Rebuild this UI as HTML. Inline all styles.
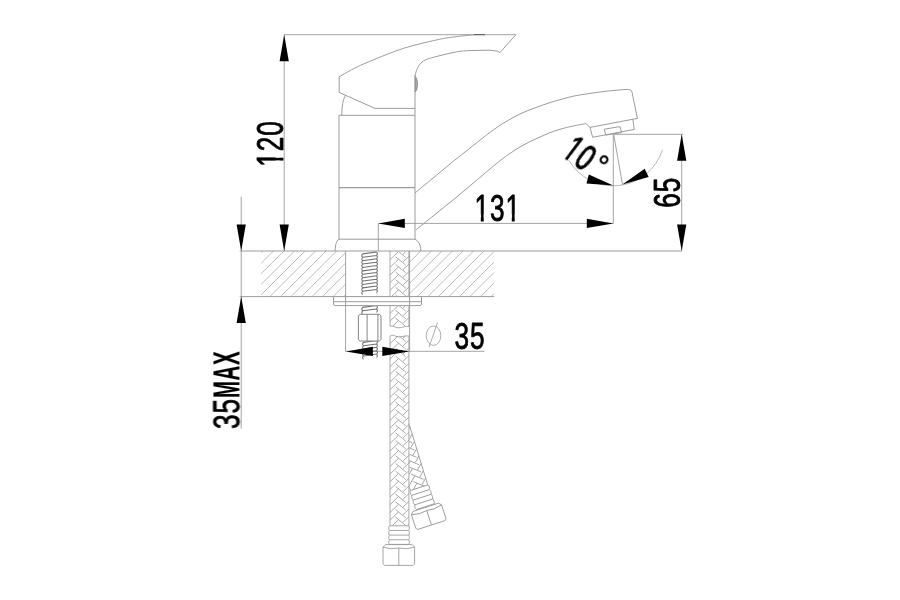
<!DOCTYPE html>
<html lang="en">
<head>
<meta charset="utf-8">
<title>Faucet dimensional drawing</title>
<style>
html,body{margin:0;padding:0;background:#fff;}
body{width:900px;height:600px;overflow:hidden;position:relative;font-family:"Liberation Sans", sans-serif;}
#drawing{position:absolute;left:0;top:0;width:900px;height:600px;overflow:hidden;background:#fff;}
svg{position:absolute;left:0;top:0;display:block;will-change:transform;}
svg text{font-family:"Liberation Sans", sans-serif;fill:#000;stroke:#000;stroke-linejoin:round;}
.vt{will-change:transform;position:absolute;left:0;top:0;white-space:nowrap;line-height:1;color:#000;font-family:"Liberation Sans", sans-serif;transform-origin:0 0;-webkit-text-stroke:1px #000;}
.vt span{display:inline-block;transform-origin:0 50%;vertical-align:baseline;}
</style>
</head>
<body>
<div id="drawing">
<svg width="900" height="600" viewBox="0 0 900 600">
<defs>
<clipPath id="k0"><path clip-rule="evenodd" d="M-5 -36.9H75.47V11.07H-5ZM1.19 -7.18H8.91V1.62H1.19ZM12.91 -7.18H20.34V1.62H12.91Z"/></clipPath>
<clipPath id="k1"><path clip-rule="evenodd" d="M-5 -36.9H75.47V11.07H-5ZM1.19 -7.18H8.91V1.62H1.19ZM12.91 -7.18H20.34V1.62H12.91ZM44.83 -7.18H52.55V1.62H44.83ZM56.56 -7.18H63.99V1.62H56.56Z"/></clipPath>
</defs>
<rect width="900" height="600" fill="#fff"/>
<g id="hatch" stroke="#acacac" stroke-width="0.8" fill="none">
<path d="M261.2 252.67L262.87 251M261.2 263.2L273.4 251M261.2 273.73L283.93 251M261.2 284.26L294.46 251M261.2 294.79L304.99 251M269.92 296.6L315.52 251M280.45 296.6L326.05 251M290.98 296.6L336.58 251M301.51 296.6L345.6 252.51M312.04 296.6L345.6 263.04M322.57 296.6L345.6 273.57M333.1 296.6L345.6 284.1M343.63 296.6L345.6 294.63"/>
<path d="M409.6 251.69L410.29 251M409.6 262.22L420.82 251M409.6 272.75L431.35 251M409.6 283.28L441.88 251M409.6 293.81L452.41 251M417.34 296.6L462.94 251M427.87 296.6L473.47 251M438.4 296.6L484 251M448.93 296.6L494 251.53M459.46 296.6L494 262.06M469.99 296.6L494 272.59M480.52 296.6L494 283.12M491.05 296.6L494 293.65"/>
</g>
<path d="M239.7 251L682.2 251" fill="none" stroke="#9c9c9c" stroke-width="1"/>
<path d="M239.7 296.6L494.2 296.6" fill="none" stroke="#9c9c9c" stroke-width="1"/>
<path d="M284.2 34.7L284.2 251" fill="none" stroke="#a4a4a4" stroke-width="1"/>
<path d="M284.2 34.7L515.8 34.7" fill="none" stroke="#a4a4a4" stroke-width="1"/>
<path d="M241.2 196.7L241.2 428.7" fill="none" stroke="#a4a4a4" stroke-width="1"/>
<path d="M681.7 134.3L681.7 251" fill="none" stroke="#a4a4a4" stroke-width="1"/>
<path d="M613.3 134.3L683.3 134.3" fill="none" stroke="#a4a4a4" stroke-width="1"/>
<path d="M613.3 134.3L613.3 223.4" fill="none" stroke="#a4a4a4" stroke-width="1"/>
<path d="M378.3 223.4L613.3 223.4" fill="none" stroke="#a4a4a4" stroke-width="1"/>
<path d="M378.3 223.4L378.3 251" fill="none" stroke="#a4a4a4" stroke-width="1"/>
<path d="M345.6 251L345.6 351.5" fill="none" stroke="#a4a4a4" stroke-width="1"/>
<path d="M409.6 251L409.6 351.5" fill="none" stroke="#a4a4a4" stroke-width="1"/>
<path d="M345.6 351.3L484.5 351.3" fill="none" stroke="#a4a4a4" stroke-width="1"/>
<path d="M339 115.3L339 239.2" fill="none" stroke="#9c9c9c" stroke-width="1"/>
<path d="M415 75L415 239.2" fill="none" stroke="#9c9c9c" stroke-width="1"/>
<path d="M339 115.3L415 115.3" fill="none" stroke="#9c9c9c" stroke-width="1"/>
<path d="M339 187.6L415 187.6" fill="none" stroke="#9c9c9c" stroke-width="1.3"/>
<path d="M339 239.2L415 239.2" fill="none" stroke="#9c9c9c" stroke-width="1"/>
<path d="M339 239.2C336.3 241 335.2 245 335.2 251" fill="none" stroke="#9c9c9c" stroke-width="1"/>
<path d="M415 239.2C418.4 241 420.8 245 420.8 251" fill="none" stroke="#9c9c9c" stroke-width="1"/>
<path d="M339.2 76.7C342 75.17 350.03 70.42 356 67.5C361.97 64.58 367.12 62.38 375 59.2C382.88 56.02 393.02 51.62 403.3 48.4C413.58 45.18 428.08 41.83 436.7 39.9C445.32 37.97 448.78 37.65 455 36.8C461.22 35.95 470.83 35.13 474 34.8" fill="none" stroke="#9c9c9c" stroke-width="1"/>
<path d="M339.2 76.7L339.2 92.5L375 108.4L415 108.4" fill="none" stroke="#9c9c9c" stroke-width="1"/>
<path d="M415 76C415.25 75.08 415.95 72.05 416.5 70.5C417.05 68.95 417.62 67.88 418.3 66.7C418.98 65.52 419.7 64.38 420.6 63.4C421.5 62.42 422.58 61.52 423.7 60.8C424.82 60.08 425.97 59.6 427.3 59.1C428.63 58.6 429.92 58.3 431.7 57.8C433.48 57.3 435.78 56.67 438 56.1C440.22 55.53 442.67 54.95 445 54.4C447.33 53.85 449.78 53.28 452 52.8C454.22 52.32 456.13 51.83 458.3 51.5C460.47 51.17 463.38 50.95 465 50.8C466.62 50.65 467.5 50.63 468 50.6" fill="none" stroke="#9c9c9c" stroke-width="1"/>
<path d="M468 50.6L490 50.2L497.5 51.2L500 52.6L515.8 34.7" fill="none" stroke="#9c9c9c" stroke-width="1"/>
<path d="M345.3 95.4C344.95 96.33 343.72 99.07 343.2 101C342.68 102.93 342.47 104.62 342.2 107C341.93 109.38 341.7 113.92 341.6 115.3" fill="none" stroke="#9c9c9c" stroke-width="1"/>
<path d="M415.2 76.5C418.3 79 418.3 89.5 415.2 92Z" fill="#a8a8a8" stroke="#888" stroke-width="0.8"/>
<path d="M474 34.7L485 34.7" fill="none" stroke="#555" stroke-width="1"/>
<path d="M415 192.9C417.83 190.58 426.17 183.82 432 179C437.83 174.18 444.5 168.5 450 164C455.5 159.5 460 155.97 465 152C470 148.03 475.83 143.47 480 140.2C484.17 136.93 486.67 134.88 490 132.4C493.33 129.92 496.67 127.48 500 125.3C503.33 123.12 506.67 121.18 510 119.3C513.33 117.42 516.67 115.6 520 114C523.33 112.4 526.67 111.03 530 109.7C533.33 108.37 536.67 107.18 540 106C543.33 104.82 546.67 103.65 550 102.6C553.33 101.55 556.12 100.77 560 99.7C563.88 98.63 568.3 97.25 573.3 96.2C578.3 95.15 584.43 94.23 590 93.4C595.57 92.57 601.7 91.78 606.7 91.2C611.7 90.62 616.4 90.2 620 89.9C623.6 89.6 626.92 89.48 628.3 89.4" fill="none" stroke="#9c9c9c" stroke-width="1"/>
<path d="M628.3 89.4C630.5 89.5 631.6 90.5 632 92.2L637.4 118.4" fill="none" stroke="#9c9c9c" stroke-width="1"/>
<path d="M415.8 230C418.83 227.55 427.8 220.3 434 215.3C440.2 210.3 447 204.92 453 200C459 195.08 464.67 190.27 470 185.8C475.33 181.33 480 177.38 485 173.2C490 169.02 495.83 164 500 160.7C504.17 157.4 506.67 155.68 510 153.4C513.33 151.12 516.67 148.97 520 147C523.33 145.03 526.67 143.27 530 141.6C533.33 139.93 536.67 138.48 540 137C543.33 135.52 546.67 133.98 550 132.7C553.33 131.42 556.17 130.42 560 129.3C563.83 128.18 568.7 126.95 573 126C577.3 125.05 583.67 124 585.8 123.6" fill="none" stroke="#9c9c9c" stroke-width="1"/>
<path d="M585.8 123.6L590 127.4L637.4 118.4" fill="none" stroke="#9c9c9c" stroke-width="1"/>
<path d="M590 127.4L592.6 137.3L634.3 129.4L632.8 119.3" fill="none" stroke="#9c9c9c" stroke-width="1"/>
<path d="M604.2 129.2L620 126.6L621.7 132.5L605.8 135.1Z" fill="none" stroke="#9c9c9c" stroke-width="1"/>
<path d="M662.42 149.79A51.5 51.5 0 0 1 568.7 160.05" fill="none" stroke="#a6a6a6" stroke-width="0.8"/>
<path d="M613.8 135L622.5 184.6" fill="none" stroke="#9a9a9a" stroke-width="0.9"/>
<g id="rod" stroke="#707070" stroke-width="1.05" fill="none">
<path d="M362.7 253.87L376.5 252L362.7 253.87M362.7 253.87C361.5 255.06 361.5 256.08 362.7 257.27M376.5 252C377.7 253.19 377.7 254.21 376.5 255.4M362.7 257.27L376.5 255.4L362.7 257.27M362.7 257.27C361.5 258.46 361.5 259.48 362.7 260.67M376.5 255.4C377.7 256.59 377.7 257.61 376.5 258.8M362.7 260.67L376.5 258.8L362.7 260.67M362.7 260.67C361.5 261.86 361.5 262.88 362.7 264.07M376.5 258.8C377.7 259.99 377.7 261.01 376.5 262.2M362.7 264.07L376.5 262.2L362.7 264.07M362.7 264.07C361.5 265.26 361.5 266.28 362.7 267.47M376.5 262.2C377.7 263.39 377.7 264.41 376.5 265.6M362.7 267.47L376.5 265.6L362.7 267.47M362.7 267.47C361.5 268.66 361.5 269.68 362.7 270.87M376.5 265.6C377.7 266.79 377.7 267.81 376.5 269M362.7 270.87L376.5 269L362.7 270.87M362.7 270.87C361.5 272.06 361.5 273.08 362.7 274.27M376.5 269C377.7 270.19 377.7 271.21 376.5 272.4M362.7 274.27L376.5 272.4L362.7 274.27M362.7 274.27C361.5 275.46 361.5 276.48 362.7 277.67M376.5 272.4C377.7 273.59 377.7 274.61 376.5 275.8M362.7 277.67L376.5 275.8L362.7 277.67M362.7 277.67C361.5 278.86 361.5 279.88 362.7 281.07M376.5 275.8C377.7 276.99 377.7 278.01 376.5 279.2M362.7 281.07L376.5 279.2L362.7 281.07M362.7 281.07C361.5 282.26 361.5 283.28 362.7 284.47M376.5 279.2C377.7 280.39 377.7 281.41 376.5 282.6M362.7 284.47L376.5 282.6L362.7 284.47M362.7 284.47C361.5 285.66 361.5 286.68 362.7 287.87M376.5 282.6C377.7 283.79 377.7 284.81 376.5 286M362.7 287.87L376.5 286L362.7 287.87M362.7 287.87C361.5 289.06 361.5 290.08 362.7 291.27M376.5 286C377.7 287.19 377.7 288.21 376.5 289.4M362.7 291.27L376.5 289.4L362.7 291.27M362.7 291.27C361.5 292.46 361.5 293.48 362.7 294.67M376.5 289.4C377.7 290.59 377.7 291.61 376.5 292.8"/>
<path d="M362.7 307.37L376.5 305.5L362.7 307.37M362.7 307.37C361.5 308.56 361.5 309.58 362.7 310.77M376.5 305.5C377.7 306.69 377.7 307.71 376.5 308.9M362.7 310.77L376.5 308.9L362.7 310.77M362.7 310.77C361.5 311.96 361.5 312.98 362.7 314.17M376.5 308.9C377.7 310.09 377.7 311.11 376.5 312.3"/>
<path d="M363.5 342.37L376.5 340.5L363.5 342.37M363.5 342.37C362.3 343.56 362.3 344.58 363.5 345.77M376.5 340.5C377.7 341.69 377.7 342.71 376.5 343.9M363.5 345.77L376.5 343.9L363.5 345.77M363.5 345.77C362.3 346.96 362.3 347.98 363.5 349.17M376.5 343.9C377.7 345.09 377.7 346.11 376.5 347.3M363.5 349.17L376.5 347.3L363.5 349.17M363.5 349.17C362.3 350.36 362.3 351.38 363.5 352.57M376.5 347.3C377.7 348.49 377.7 349.51 376.5 350.7M363.5 352.57L376.5 350.7L363.5 352.57M363.5 352.57C362.3 353.76 362.3 354.78 363.5 355.97M376.5 350.7C377.7 351.89 377.7 352.91 376.5 354.1M363.5 355.97L376.5 354.1L363.5 355.97M363.5 355.97C362.3 357.16 362.3 358.18 363.5 359.37M376.5 354.1C377.7 355.29 377.7 356.31 376.5 357.5"/>
</g>
<path d="M358.4 316L359.8 314.3H379.6L381 316V339.4L379.6 341H359.8L358.4 339.4Z" fill="#fff" stroke="#858585" stroke-width="1"/>
<path d="M367.1 314.3L367.1 341" fill="none" stroke="#858585" stroke-width="1"/>
<path d="M377.9 314.3L377.9 341" fill="none" stroke="#858585" stroke-width="1"/>
<g id="hose1" stroke="#9c9c9c" stroke-width="0.85" fill="none">
<path d="M390 259.67L398.04 252M399.16 252L405.8 257.47M403 254.27L405.39 252M390 267.34L398.6 259.14M395.6 256.74L405.8 265.14M403 261.94L408.9 256.33M390 275.01L398.6 266.81M395.6 264.41L405.8 272.81M403 269.61L408.9 264M390 282.68L398.6 274.48M395.6 272.08L405.8 280.48M403 277.28L408.9 271.68M390 290.35L398.6 282.15M395.6 279.75L405.8 288.15M403 284.95L408.9 279.35M390 298.02L398.6 289.82M395.6 287.42L405.8 295.82M403 292.62L408.9 287.02M390 305.69L398.6 297.49M395.6 295.09L405.8 303.49M403 300.29L408.9 294.69M390 313.36L398.6 305.16M395.6 302.76L405.8 311.16M403 307.96L408.9 302.36M390 321.03L398.6 312.83M395.6 310.43L405.8 318.83M403 315.63L408.9 310.03M392.83 326L398.6 320.5M395.6 318.1L405.19 326M403 323.3L408.9 317.7M408.23 326L408.9 325.37"/>
<path d="M390 343.67L398.04 336M399.16 336L405.8 341.47M403 338.27L405.39 336M390 351.34L398.6 343.14M395.6 340.74L405.8 349.14M403 345.94L408.9 340.34M390 359.01L398.6 350.81M395.6 348.41L405.8 356.81M403 353.61L408.9 348.01M390 366.68L398.6 358.48M395.6 356.08L405.8 364.48M403 361.28L408.9 355.68M390 374.35L398.6 366.15M395.6 363.75L405.8 372.15M403 368.95L408.9 363.35M390 382.02L398.6 373.82M395.6 371.42L405.8 379.82M403 376.62L408.9 371.02M390 389.69L398.6 381.49M395.6 379.09L405.8 387.49M403 384.29L408.9 378.69M390 397.36L398.6 389.16M395.6 386.76L405.8 395.16M403 391.96L408.9 386.36M390 405.03L398.6 396.83M395.6 394.43L405.8 402.83M403 399.63L408.9 394.03M390 412.7L398.6 404.5M395.6 402.1L405.8 410.5M403 407.3L408.9 401.7M390 420.37L398.6 412.17M395.6 409.77L405.8 418.17M403 414.97L408.9 409.37M390 428.04L398.6 419.84M395.6 417.44L405.8 425.84M403 422.64L408.9 417.04M390 435.71L398.6 427.51M395.6 425.11L405.8 433.51M403 430.31L408.9 424.71M390 443.38L398.6 435.18M395.6 432.78L405.8 441.18M403 437.98L408.9 432.38M390 451.05L398.6 442.85M395.6 440.45L405.8 448.85M403 445.65L408.9 440.05M390 458.72L398.6 450.52M395.6 448.12L405.8 456.52M403 453.32L408.9 447.72M390 466.39L398.6 458.19M395.6 455.79L405.8 464.19M403 460.99L408.9 455.39M390 474.06L398.6 465.86M395.6 463.46L405.8 471.86M403 468.66L408.9 463.06M390 481.73L398.6 473.53M395.6 471.13L405.8 479.53M403 476.33L408.9 470.73M390 489.4L398.6 481.2M395.6 478.8L405.8 487.2M403 484L408.9 478.4M390 497.07L398.6 488.87M395.6 486.47L405.8 494.87M403 491.67L408.9 486.07M390 504.74L398.6 496.54M395.6 494.14L405.8 502.54M403 499.34L408.9 493.74M390 512.41L398.6 504.21M395.6 501.81L405.8 510.21M403 507.01L408.9 501.41M390 520.08L398.6 511.88M395.6 509.48L405.8 517.88M403 514.68L408.9 509.08M392.36 525.5L398.6 519.55M395.6 517.15L405.74 525.5M403 522.35L408.9 516.75M395.6 524.82L396.43 525.5M407.76 525.5L408.9 524.42"/>
<path d="M390 251V326M390 336V525.8M408.9 251V326M408.9 336V525.8"/>
<path d="M390 326C393 325.2 395 327.6 398 327.8C402 328 405 325.6 409 326.6M390 336C392 334.6 394 335.2 396 336.4C400 338.2 404 335 409 336"/>
</g>
<path d="M333.6 296.6V304.1Q333.6 305.6 335.1 305.6H420Q421.5 305.6 421.5 304.1V296.6Z" fill="#fff" stroke="#9c9c9c" stroke-width="1"/>
<path d="M333.6 301.7L421.5 301.7" fill="none" stroke="#9c9c9c" stroke-width="1"/>
<path d="M345.6 296.6L345.6 305.6" fill="none" stroke="#9c9c9c" stroke-width="1"/>
<path d="M409.6 296.6L409.6 305.6" fill="none" stroke="#9c9c9c" stroke-width="1"/>
<g id="end1" stroke="#9c9c9c" stroke-width="0.9" fill="none">
<path d="M389.4 525.8H408.7M389.4 525.8C388.5 526.96 388.5 529.29 389.4 530.45C388.5 531.61 388.5 533.94 389.4 535.1C388.5 536.26 388.5 538.59 389.4 539.75C388.5 540.91 388.5 543.24 389.4 544.4M408.7 525.8C409.6 526.96 409.6 529.29 408.7 530.45C409.6 531.61 409.6 533.94 408.7 535.1C409.6 536.26 409.6 538.59 408.7 539.75C409.6 540.91 409.6 543.24 408.7 544.4M389.4 530.45H408.7M389.4 535.1H408.7M389.4 539.75H408.7M389.4 544.4H408.7"/>
<path d="M385.4 544.6L383 547.2V563.9L384.5 565.4H413.1L414.6 563.9V547.2L412.2 544.6ZM398.8 548V565.4M383 547.2Q390.9 549.8 398.8 548Q406.7 549.8 414.6 547.2"/>
</g>
<clipPath id="clipR"><rect x="409.2" y="400" width="100" height="200"/></clipPath>
<g clip-path="url(#clipR)">
<g id="hose2" stroke="#9c9c9c" stroke-width="0.85" fill="none" transform="translate(408.4 421.7) rotate(-17)">
<path d="M-18.3 -7.33L-10.26 -15M-9.14 -15L-2.5 -9.53M-5.3 -12.73L-2.91 -15M-18.3 0.34L-9.7 -7.86M-12.7 -10.26L-2.5 -1.86M-5.3 -5.06L0 -10.1M-18.3 8.01L-9.7 -0.19M-12.7 -2.59L-2.5 5.81M-5.3 2.61L0 -2.43M-18.3 15.68L-9.7 7.48M-12.7 5.08L-2.5 13.48M-5.3 10.28L0 5.24M-18.3 23.35L-9.7 15.15M-12.7 12.75L-2.5 21.15M-5.3 17.95L0 12.91M-18.3 31.02L-9.7 22.82M-12.7 20.42L-2.5 28.82M-5.3 25.62L0 20.58M-18.3 38.69L-9.7 30.49M-12.7 28.09L-2.5 36.49M-5.3 33.29L0 28.25M-18.3 46.36L-9.7 38.16M-12.7 35.76L-2.5 44.16M-5.3 40.96L0 35.92M-18.3 54.03L-9.7 45.83M-12.7 43.43L-2.5 51.83M-5.3 48.63L0 43.59M-18.3 61.7L-9.7 53.5M-12.7 51.1L-2.5 59.5M-5.3 56.3L0 51.27M-15.08 66.3L-9.7 61.17M-12.7 58.77L-3.56 66.3M-5.3 63.97L0 58.94"/>
<path d="M0 0V66.3M-18.3 -15V66.3"/>
</g>
</g>
<g id="end2" stroke="#9c9c9c" stroke-width="0.9" fill="none" transform="translate(427.7 485.2) rotate(-18)">
<path d="M-18.3 -0.3H0.4M-18.3 -0.3C-19.2 0.95 -19.2 3.45 -18.3 4.7C-19.2 5.95 -19.2 8.45 -18.3 9.7C-19.2 10.95 -19.2 13.45 -18.3 14.7C-19.2 15.95 -19.2 18.45 -18.3 19.7M0.4 -0.3C1.3 0.95 1.3 3.45 0.4 4.7C1.3 5.95 1.3 8.45 0.4 9.7C1.3 10.95 1.3 13.45 0.4 14.7C1.3 15.95 1.3 18.45 0.4 19.7M-18.3 4.7H0.4M-18.3 9.7H0.4M-18.3 14.7H0.4M-18.3 19.7H0.4"/>
<path d="M-22.2 20.4L-24.6 23V37.5L-23.1 39H5.6L7.1 37.5V23L4.7 20.4ZM-8.75 23.8V39M-24.6 23Q-16.68 25.6 -8.75 23.8Q-0.83 25.6 7.1 23"/>
</g>
<ellipse cx="433.5" cy="335.7" rx="7.3" ry="9.7" fill="none" stroke="#9a9a9a" stroke-width="0.8"/>
<path d="M429 347.3L437.6 322.4" fill="none" stroke="#9a9a9a" stroke-width="0.8"/>
<g id="arrows">
<path d="M284.2 34.7L288.8 61.2L279.6 61.2Z" fill="#000"/>
<path d="M284.2 251L279.6 224.5L288.8 224.5Z" fill="#000"/>
<path d="M241.2 251L236.6 224.5L245.8 224.5Z" fill="#000"/>
<path d="M241.2 296.6L245.8 323.1L236.6 323.1Z" fill="#000"/>
<path d="M681.7 134.3L686.3 160.8L677.1 160.8Z" fill="#000"/>
<path d="M681.7 251L677.1 224.5L686.3 224.5Z" fill="#000"/>
<path d="M378.3 223.4L404.8 218.8L404.8 228Z" fill="#000"/>
<path d="M613.3 223.4L586.8 228L586.8 218.8Z" fill="#000"/>
<path d="M345.9 351.4L372.9 346.8L372.9 356Z" fill="#000"/>
<path d="M409.3 351.4L382.3 356L382.3 346.8Z" fill="#000"/>
<path d="M613.3 185.6L586.49 183.42L588.8 174.51Z" fill="#000"/>
<path d="M622.3 184.5L644.69 168.72L648.65 177.03Z" fill="#000"/>
</g>
<text transform="translate(282.7 166.8) rotate(-90) scale(0.71 1)" font-size="36.9" letter-spacing="1.3" stroke-width="0.85" clip-path="url(#k0)">120</text>
<text transform="translate(474.5 221.4) rotate(0) scale(0.71 1)" font-size="36.9" letter-spacing="1.3" stroke-width="0.85" clip-path="url(#k1)">131</text>
<text transform="translate(680.2 207.7) rotate(-90) scale(0.71 1)" font-size="36.9" letter-spacing="1.3" stroke-width="0.85">65</text>
<text transform="translate(454.5 349.1) rotate(0) scale(0.71 1)" font-size="36.9" letter-spacing="1.3" stroke-width="0.85">35</text>
</svg>
<div class="vt" id="t-max" style="font-size:36.9px;transform:translate(209.46px,429px) rotate(-90deg);"><span style="transform:scaleX(0.71);width:30.99px;letter-spacing:1.3px;-webkit-text-stroke-width:0.85px;">35</span><span style="transform:scaleX(0.56);width:47.1px;letter-spacing:1px;-webkit-text-stroke-width:0.2px;font-size:36.5px;font-weight:700;">MAX</span></div>
<div class="vt" id="t-ang" style="font-size:36.9px;transform:translate(578.3px,130.65px) rotate(37deg);"><span style="transform:scaleX(0.7);width:29.85px;letter-spacing:0.8px;-webkit-text-stroke-width:1px;clip-path:polygon(-5px -10px,52.65px -10px,52.65px 47.97px,20.42px 47.97px,20.42px 23.98px,12.99px 23.98px,12.99px 47.97px,8.83px 47.97px,8.83px 23.98px,-5px 23.98px);">10</span><span style="transform:scaleX(1);width:11.6px;letter-spacing:0px;-webkit-text-stroke-width:0.6px;font-size:29px;position:relative;top:-6px;margin-left:2.3px;">°</span></div>
</div>
</body>
</html>
